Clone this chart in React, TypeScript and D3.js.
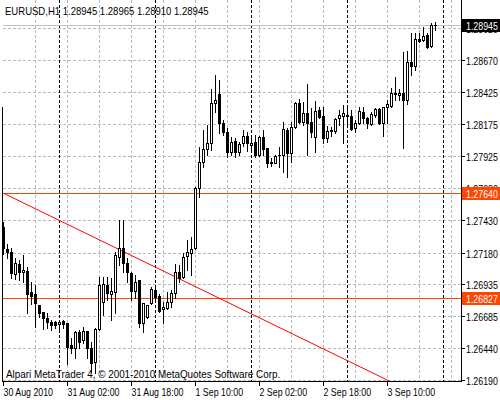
import React from 'react';
import * as d3 from 'd3';

const symbol = 'EURUSD,H1';
const copyright = 'Alpari MetaTrader 4, © 2001-2010 MetaQuotes Software Corp.';

const opens = [1.27378,1.27207,1.27184,1.27013,1.27090,1.27028,1.27036,1.26873,1.26858,1.26772,1.26718,1.26671,1.26640,1.26640,1.26625,1.26648,1.26632,1.26462,1.26438,1.26563,1.26501,1.26570,1.26438,1.26330,1.26586,1.26795,1.26927,1.26858,1.26873,1.27145,1.27215,1.27098,1.27020,1.26881,1.26966,1.26632,1.26679,1.26788,1.26889,1.26842,1.26741,1.26749,1.26795,1.26865,1.27028,1.26989,1.27152,1.27176,1.27215,1.27680,1.27882,1.27983,1.28029,1.28340,1.28410,1.28185,1.28115,1.27960,1.28045,1.27960,1.28029,1.28084,1.28014,1.28037,1.27936,1.28076,1.27991,1.27882,1.27874,1.27936,1.27936,1.28130,1.27952,1.28154,1.28340,1.28192,1.28262,1.28192,1.28076,1.28285,1.28239,1.28068,1.28130,1.28122,1.28223,1.28239,1.28247,1.28239,1.28146,1.28185,1.28270,1.28223,1.28177,1.28247,1.28293,1.28185,1.28309,1.28316,1.28417,1.28402,1.28417,1.28363,1.28658,1.28627,1.28836,1.28829,1.28867,1.28782,1.28945];
const highs = [1.27416,1.27246,1.27215,1.27137,1.27121,1.27160,1.27067,1.26951,1.26927,1.26772,1.26718,1.26710,1.26656,1.26648,1.26656,1.26656,1.26632,1.26516,1.26570,1.26578,1.26601,1.26570,1.26485,1.26594,1.26989,1.26989,1.26989,1.26982,1.27184,1.27432,1.27432,1.27137,1.27028,1.27005,1.26966,1.26788,1.26772,1.26912,1.26904,1.26858,1.26795,1.26873,1.26889,1.27090,1.27083,1.27176,1.27277,1.27300,1.27688,1.27998,1.28130,1.28169,1.28448,1.28557,1.28518,1.28208,1.28146,1.28076,1.28068,1.28037,1.28130,1.28115,1.28076,1.28091,1.28084,1.28130,1.27991,1.27913,1.27936,1.27998,1.28192,1.28146,1.28192,1.28347,1.28371,1.28347,1.28487,1.28301,1.28355,1.28309,1.28309,1.28161,1.28154,1.28223,1.28285,1.28324,1.28309,1.28285,1.28208,1.28309,1.28309,1.28231,1.28270,1.28301,1.28301,1.28309,1.28363,1.28456,1.28541,1.28448,1.28736,1.28743,1.28883,1.28883,1.28883,1.28930,1.28883,1.28961,1.28965];
const lows = [1.27168,1.27137,1.26982,1.26974,1.26966,1.26951,1.26710,1.26780,1.26601,1.26679,1.26586,1.26594,1.26578,1.26594,1.26586,1.26594,1.26314,1.26400,1.26361,1.26438,1.26477,1.26361,1.26252,1.26244,1.26578,1.26695,1.26811,1.26656,1.26710,1.27083,1.27028,1.26951,1.26811,1.26826,1.26601,1.26563,1.26671,1.26780,1.26795,1.26718,1.26632,1.26741,1.26757,1.26826,1.26951,1.26982,1.27044,1.27005,1.27207,1.27610,1.27843,1.27936,1.27975,1.28270,1.28107,1.28091,1.27921,1.27936,1.27921,1.27936,1.28006,1.27967,1.27960,1.27921,1.27928,1.27936,1.27843,1.27851,1.27874,1.27843,1.27804,1.27766,1.27882,1.28146,1.28185,1.28169,1.27936,1.28076,1.27960,1.28223,1.28029,1.28037,1.28084,1.28107,1.28169,1.28029,1.28169,1.28130,1.28115,1.28177,1.28185,1.28146,1.28169,1.28231,1.28177,1.28084,1.28185,1.28309,1.28363,1.28363,1.27991,1.28332,1.28557,1.28596,1.28813,1.28821,1.28766,1.28774,1.28910];
const closes = [1.27215,1.27184,1.27020,1.27098,1.27028,1.27044,1.26858,1.26842,1.26788,1.26710,1.26671,1.26640,1.26617,1.26617,1.26640,1.26625,1.26446,1.26438,1.26563,1.26485,1.26570,1.26438,1.26322,1.26586,1.26927,1.26935,1.26865,1.26881,1.27160,1.27215,1.27098,1.27028,1.26881,1.26951,1.26632,1.26788,1.26772,1.26896,1.26834,1.26726,1.26757,1.26795,1.26865,1.27028,1.26982,1.27145,1.27184,1.27207,1.27680,1.27882,1.27983,1.28029,1.28340,1.28363,1.28185,1.28115,1.27960,1.28037,1.27960,1.28022,1.28084,1.28029,1.28029,1.27936,1.28076,1.27983,1.27874,1.27874,1.27928,1.27936,1.28138,1.27952,1.28154,1.28340,1.28192,1.28262,1.28185,1.28115,1.28278,1.28231,1.28068,1.28122,1.28122,1.28216,1.28247,1.28262,1.28239,1.28138,1.28185,1.28278,1.28223,1.28185,1.28254,1.28293,1.28185,1.28309,1.28332,1.28417,1.28410,1.28417,1.28363,1.28658,1.28627,1.28836,1.28821,1.28860,1.28774,1.28945,1.28945];

const priceTicks = [1.26190,1.26440,1.26685,1.26935,1.27180,1.27430,1.27680,1.27925,1.28175,1.28425,1.28670,1.28920];
const timeLabels = ['30 Aug 2010','31 Aug 02:00','31 Aug 18:00','1 Sep 10:00','2 Sep 02:00','2 Sep 18:00','3 Sep 10:00'];
const timeLabelBars = [0,16,32,48,64,80,96];
const gridBars = [8,16,24,32,40,48,56,64,72,80,88,96,104,112];
const daySeparatorBars = [14,38,62,86,110];
const hLinePrices = [1.27640,1.26827];
const trendBars = [0,96];
const trendPrices = [1.27640,1.26190];

const W = 500, H = 400;
const PL = 3, PR = 461, PT = 0, PB = 381;
const FONT = '"Liberation Sans", Arial, sans-serif';
const FS = 10.5;

function T({ x, y, fill = '#000', sx = 0.84, children }: { x: number; y: number; fill?: string; sx?: number; children: React.ReactNode }) {
  return (
    <text transform={`translate(${x},${y}) scale(${sx},1)`} fontSize={FS} fill={fill}>{children}</text>
  );
}

export default function App() {
  const x = d3.scaleLinear().domain([0, 1]).range([PL, PL + 4]);
  const y = d3.scaleLinear().domain([1.26190, 1.28945]).range([380.15, 25]);
  const cx = (i: number) => Math.floor(x(i)) + 0.5;
  const py = (p: number) => Math.round(y(p));
  const last = opens.length - 1;
  const title = `${symbol}  ${opens[last].toFixed(5)} ${highs[last].toFixed(5)} ${lows[last].toFixed(5)} ${closes[last].toFixed(5)}`;
  const bidY = py(closes[last]) + 0.5;

  const slope = (trendPrices[1] - trendPrices[0]) / (trendBars[1] - trendBars[0]);
  const tEnd = 130;
  const trendLine = d3.line<[number, number]>().x(d => x(d[0]) + 0.5).y(d => y(d[1]));

  return (
    <svg width={W} height={H} style={{ position: 'absolute', left: 0, top: 0, background: '#fff' }} fontFamily={FONT}>
      <defs>
        <clipPath id="plot"><rect x={PL} y={PT} width={PR - PL} height={PB - PT} /></clipPath>
      </defs>
      <rect x={0} y={0} width={W} height={H} fill="#fff" />
      <g clipPath="url(#plot)">
        {priceTicks.map((p, k) => (
          <line key={'hg' + k} x1={PL} x2={PR} y1={py(p) + 0.5} y2={py(p) + 0.5} stroke="#b8b8b8" strokeDasharray="3,2" />
        ))}
        {gridBars.map((b, k) => (
          <line key={'vg' + k} x1={cx(b)} x2={cx(b)} y1={PT} y2={PB} stroke="#b8b8b8" strokeDasharray="3,2" />
        ))}
        {daySeparatorBars.map((b, k) => (
          <line key={'ds' + k} x1={cx(b)} x2={cx(b)} y1={PT} y2={PB} stroke="#000" strokeDasharray="3,2" />
        ))}
        <line x1={PL} x2={PR} y1={bidY} y2={bidY} stroke="#c0c0c0" />
        {hLinePrices.map((p, k) => (
          <line key={'hl' + k} x1={PL} x2={PR} y1={py(p) + 0.5} y2={py(p) + 0.5} stroke="#ff4500" />
        ))}
        <path d={trendLine([[trendBars[0], trendPrices[0]], [tEnd, trendPrices[0] + slope * (tEnd - trendBars[0])]]) || ''} stroke="#ff0000" fill="none" />
        {opens.map((o, i) => {
          const c = closes[i];
          const xc = cx(i);
          const yH = py(highs[i]), yL = py(lows[i]);
          const yO = py(o), yC = py(c);
          const top = Math.min(yO, yC), bot = Math.max(yO, yC);
          const bull = c > o;
          return (
            <g key={'c' + i}>
              <line x1={xc} x2={xc} y1={yH} y2={yL + 1} stroke="#000" />
              {bot - top < 1 ? (
                <line x1={xc - 1.5} x2={xc + 1.5} y1={top + 0.5} y2={top + 0.5} stroke="#000" />
              ) : bull ? (
                <rect x={xc - 1} y={top + 0.5} width={2} height={bot - top} fill="#fff" stroke="#000" />
              ) : (
                <rect x={xc - 1.5} y={top} width={3} height={bot - top + 1} fill="#000" />
              )}
            </g>
          );
        })}
      </g>
      <line x1={PL - 0.5} x2={PL - 0.5} y1={107} y2={PB} stroke="#000" />
      <line x1={PR + 0.5} x2={PR + 0.5} y1={0} y2={PB + 0.5} stroke="#000" />
      <line x1={PL - 1} x2={PR + 1} y1={PB + 0.5} y2={PB + 0.5} stroke="#000" />
      <T x={5} y={15} sx={0.91}>{title}</T>
      <T x={6} y={378} sx={0.94}>{copyright}</T>
      {priceTicks.map((p, k) => (
        <g key={'pl' + k}>
          <line x1={PR + 1} x2={PR + 4} y1={py(p) + 0.5} y2={py(p) + 0.5} stroke="#000" />
          <T x={466} y={py(p) + 4.5}>{p.toFixed(5)}</T>
        </g>
      ))}
      {hLinePrices.map((p, k) => (
        <g key={'hb' + k}>
          <rect x={462} y={py(p) - 6} width={38} height={13} fill="#ff4500" />
          <T x={466} y={py(p) + 4.5} fill="#fff">{p.toFixed(5)}</T>
        </g>
      ))}
      <rect x={462} y={bidY - 6.5} width={38} height={13} fill="#000" />
      <T x={466} y={bidY + 4} fill="#fff">{closes[last].toFixed(5)}</T>
      {timeLabelBars.map((b, k) => (
        <g key={'tl' + k}>
          <line x1={cx(b)} x2={cx(b)} y1={PB} y2={PB + 5} stroke="#000" />
          <T x={cx(b)} y={396}>{timeLabels[k]}</T>
        </g>
      ))}
    </svg>
  );
}
